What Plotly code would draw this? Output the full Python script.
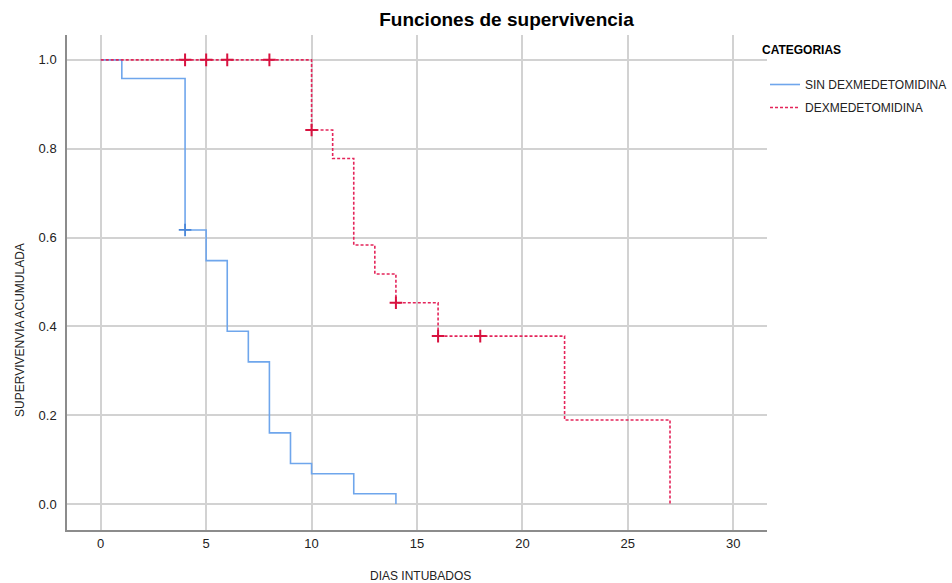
import plotly.graph_objects as go

# Blue group: SIN DEXMEDETOMIDINA
sin_t = [0, 1, 4, 5, 6, 7, 8, 9, 10, 12, 14]
sin_s = [1.0, 0.958, 0.617, 0.548, 0.389, 0.320, 0.160, 0.091, 0.068, 0.023, 0.0]
sin_cens_t = [4]
sin_cens_s = [0.617]

# Red group: DEXMEDETOMIDINA
dex_t = [0, 10, 11, 12, 13, 14, 16, 22, 27]
dex_s = [1.0, 0.842, 0.778, 0.583, 0.518, 0.453, 0.378, 0.189, 0.0]
dex_cens_t = [4, 5, 6, 8, 10, 14, 16, 18]
dex_cens_s = [1.0, 1.0, 1.0, 1.0, 0.842, 0.453, 0.378, 0.378]

x_ticks = [0, 5, 10, 15, 20, 25, 30]
y_ticks = [0.0, 0.2, 0.4, 0.6, 0.8, 1.0]

BLUE = "#6FA6EC"
RED = "#E4245A"
FONT = "Arial, Liberation Sans, sans-serif"

L, R, T, B = 67, 185, 35, 53
PW, PH = 952 - L - R, 583 - T - B

fig = go.Figure()
fig.add_trace(go.Scatter(x=sin_t, y=sin_s, mode="lines", line=dict(color=BLUE, width=1.6, shape="hv"),
                         name="SIN DEXMEDETOMIDINA", legendgroup="a"))
fig.add_trace(go.Scatter(x=sin_cens_t, y=sin_cens_s, mode="markers", showlegend=False, legendgroup="a",
                         marker=dict(symbol="cross-thin", size=9, line=dict(color="#4A86D8", width=1.8))))
fig.add_trace(go.Scatter(x=dex_t, y=dex_s, mode="lines", line=dict(color=RED, width=1.6, shape="hv", dash="3px,2px"),
                         name="DEXMEDETOMIDINA", legendgroup="b"))
fig.add_trace(go.Scatter(x=dex_cens_t, y=dex_cens_s, mode="markers", showlegend=False, legendgroup="b",
                         marker=dict(symbol="cross-thin", size=9, line=dict(color="#D8123F", width=2))))

fig.update_layout(
    width=952, height=583,
    margin=dict(l=L, r=R, t=T, b=B, autoexpand=False),
    paper_bgcolor="white", plot_bgcolor="white",
    font=dict(family=FONT, size=12, color="#222222"),
    title=dict(text="<b>Funciones de supervivencia</b>", x=0.532, xref="container", xanchor="center",
               y=1 - 19 / 583, yref="container", yanchor="middle",
               font=dict(family=FONT, size=19, color="#000000")),
    legend=dict(x=(765 - L) / PW, xanchor="left", y=1 - (70 - T) / PH, yanchor="top",
                font=dict(size=12, color="#222"), tracegroupgap=4, itemwidth=30,
                bgcolor="rgba(0,0,0,0)"),
    showlegend=True,
)
fig.update_xaxes(range=[-1.6, 31.6], tickvals=x_ticks, ticktext=[str(v) for v in x_ticks],
                 showgrid=True, gridcolor="#D2D2D2", gridwidth=2, zeroline=False,
                 showline=True, linecolor="#8C8C8C", linewidth=1.5, ticks="", ticklabelstandoff=1,
                 tickfont=dict(size=13, color="#222"))
fig.update_yaxes(range=[-0.0586, 1.056], tickvals=y_ticks, ticktext=[f"{v:.1f}" for v in y_ticks],
                 showgrid=True, gridcolor="#D2D2D2", gridwidth=2, zeroline=False,
                 showline=True, linecolor="#8C8C8C", linewidth=1.5, ticks="", ticklabelstandoff=6,
                 tickfont=dict(size=13, color="#222"))

fig.add_annotation(text="<b>CATEGORIAS</b>", xref="paper", yref="paper",
                   x=(760 - L) / PW, y=1 - (50 - T) / PH, xanchor="left", yanchor="middle",
                   showarrow=False, font=dict(size=12, color="#000"))
fig.add_annotation(text="DIAS INTUBADOS", xref="paper", yref="paper",
                   x=(421 - L) / PW, y=-(576 - 530) / PH, xanchor="center", yanchor="middle",
                   showarrow=False, font=dict(size=12, color="#222"))
fig.add_annotation(text="SUPERVIVENVIA ACUMULADA", xref="paper", yref="paper",
                   x=-(L - 20) / PW, y=(530 - 330) / PH, xanchor="center", yanchor="middle",
                   textangle=-90, showarrow=False, font=dict(size=12, color="#222"))

fig.write_html("out.html", config={"displayModeBar": False},
               post_script="document.body.style.margin='0';document.body.style.overflow='hidden';")
